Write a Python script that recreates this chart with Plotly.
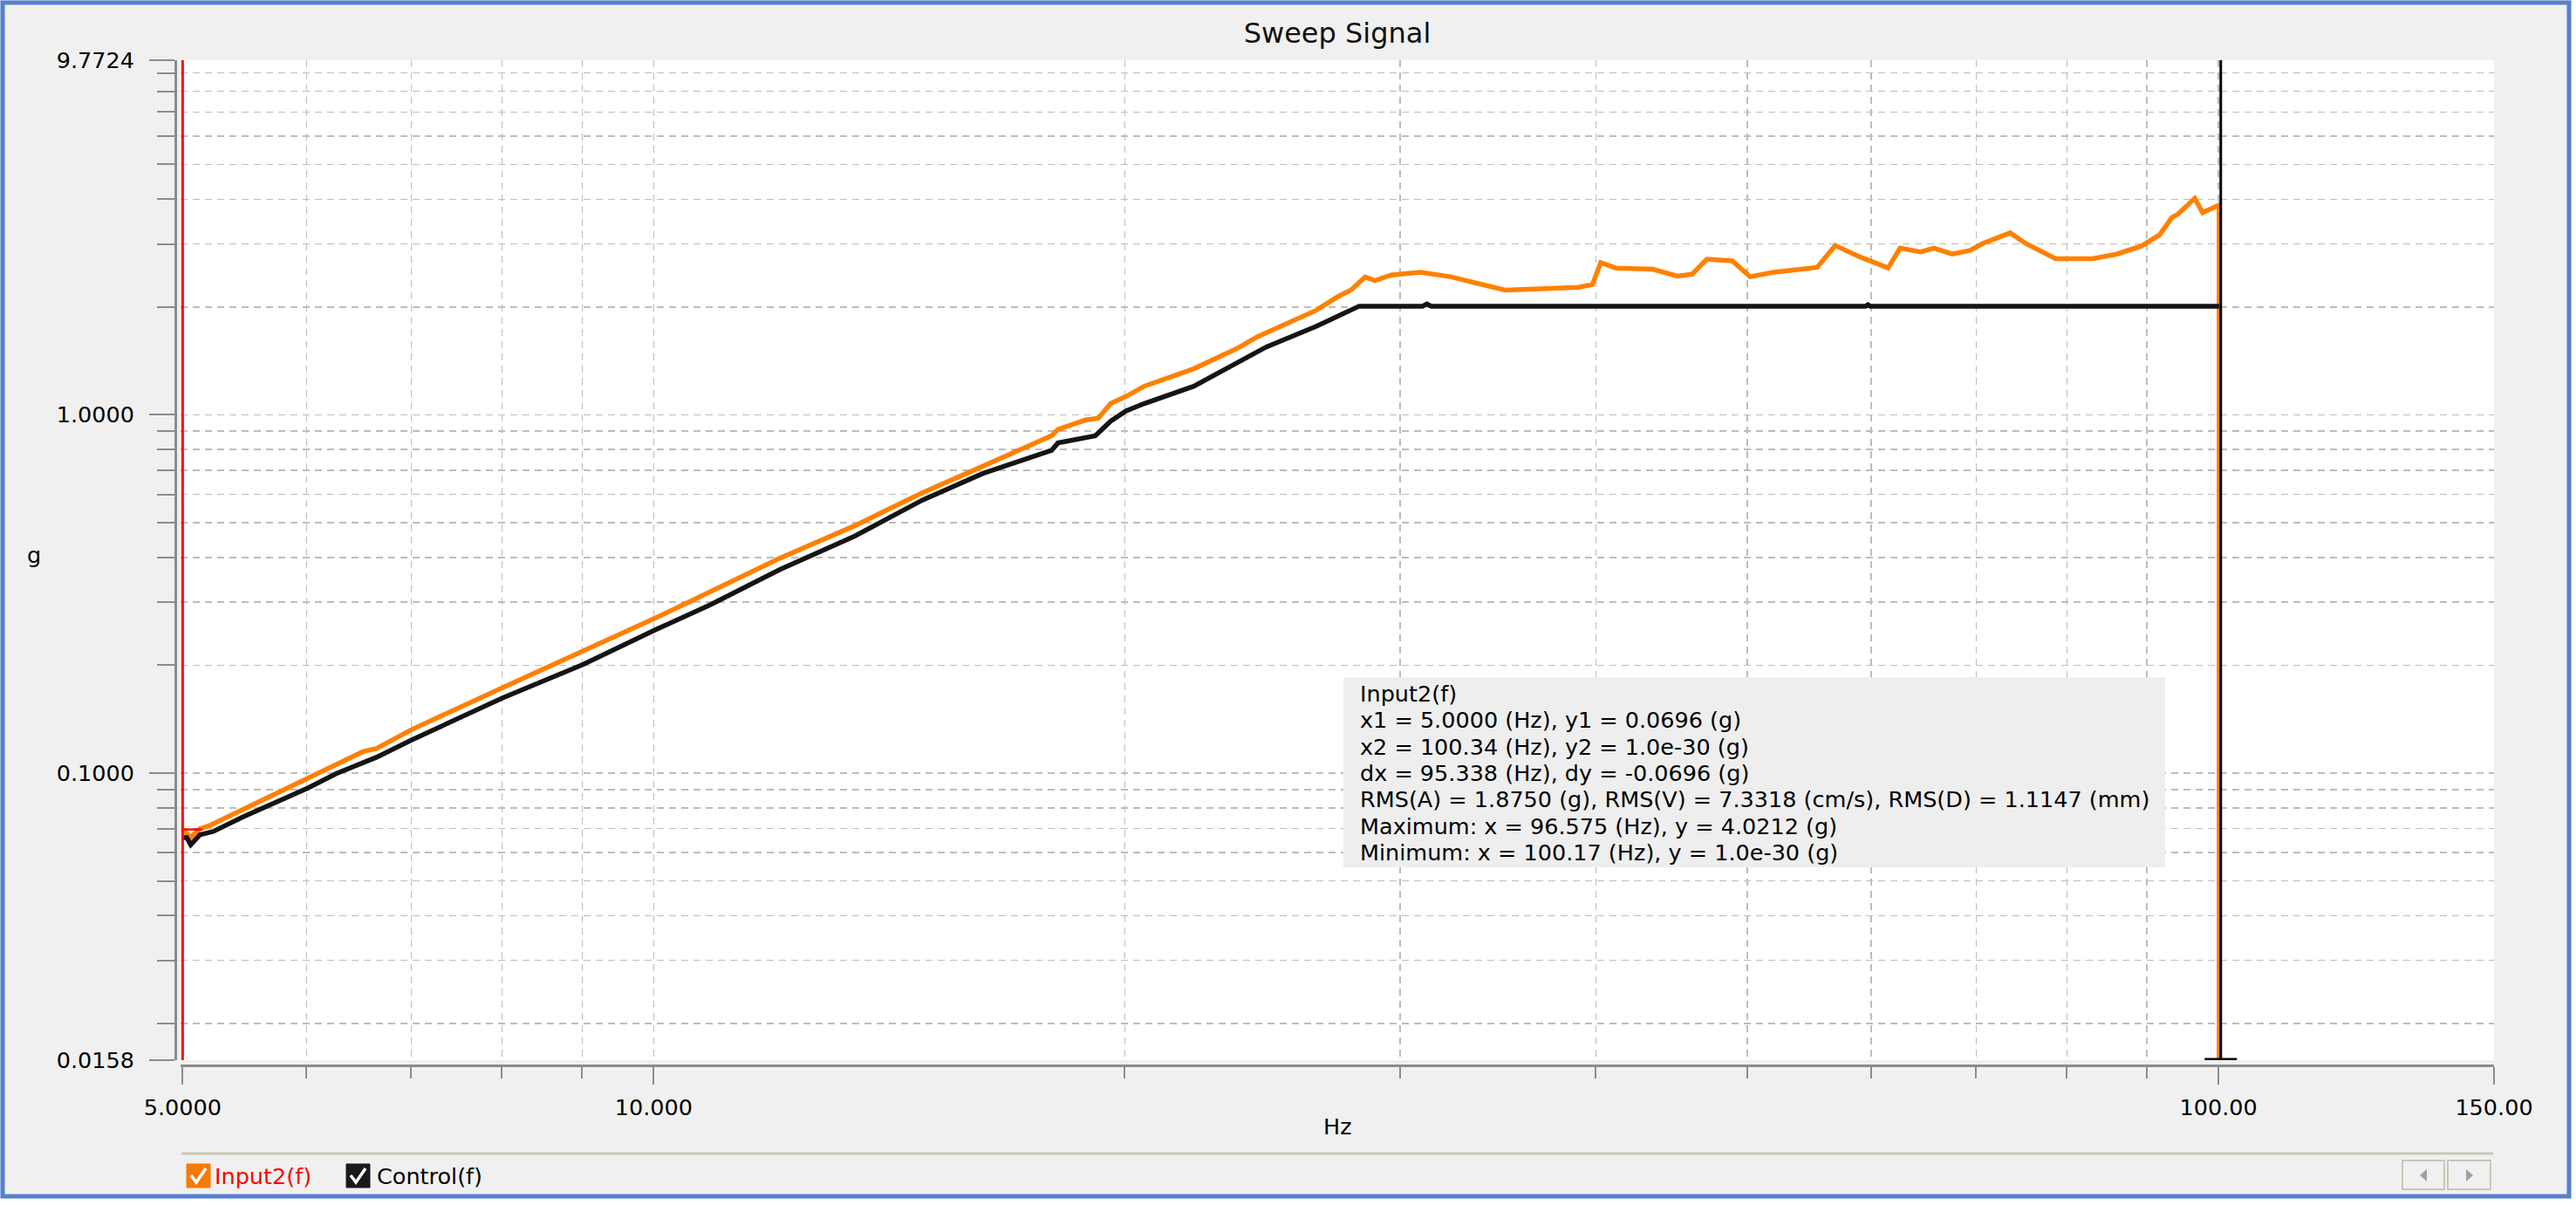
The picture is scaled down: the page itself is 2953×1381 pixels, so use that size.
import math
import plotly.graph_objects as go

# ---------------- data ----------------
input2_freq = [5.0, 5.03, 5.06, 5.13, 5.20, 5.46, 6.01, 6.52, 6.65, 7.00, 8.01, 9.02,
               10.04, 10.88, 12.04, 13.44, 14.86, 16.23, 17.96, 18.13, 18.9, 19.23,
               19.59, 20.04, 20.58, 22.14, 23.6, 24.31, 26.49, 27.41, 27.9, 28.49, 28.9,
               29.6, 30.9, 32.3, 34.4, 35.0, 39.0, 39.8, 40.3, 41.2, 43.5, 45.1, 46.1,
               47.1, 48.9, 50.2, 52.0, 54.4, 55.4, 56.9, 59.0, 61.5, 62.6, 64.5, 65.8,
               67.6, 69.4, 70.7, 73.6, 75.3, 78.7, 83.1, 86.1, 89.3, 91.7, 93.4, 94.2,
               96.575, 97.7, 100.1, 100.17]
input2_g = [0.0696, 0.068, 0.0661, 0.0700, 0.0713, 0.0790, 0.0970, 0.1148, 0.1171,
            0.1321, 0.1733, 0.219, 0.2717, 0.3215, 0.398, 0.490, 0.607, 0.7185, 0.8745,
            0.911, 0.969, 0.978, 1.075, 1.126, 1.202, 1.345, 1.533, 1.652, 1.955, 2.147,
            2.229, 2.425, 2.37, 2.457, 2.50, 2.43, 2.27, 2.23, 2.27, 2.31, 2.66, 2.57,
            2.55, 2.44, 2.47, 2.72, 2.69, 2.43, 2.50, 2.57, 2.58, 2.97, 2.76, 2.57, 2.92,
            2.85, 2.92, 2.81, 2.88, 3.01, 3.22, 3.01, 2.73, 2.73, 2.81, 2.96, 3.18, 3.56,
            3.63, 4.0212, 3.67, 3.85, 1.0e-30]

control_freq = [5.0, 5.03, 5.06, 5.13, 5.23, 5.46, 6.01, 6.27, 6.65, 7.00, 8.01, 9.02,
                10.04, 10.88, 12.04, 13.44, 14.86, 16.23, 17.96, 18.13, 19.15, 19.59,
                20.04, 20.58, 22.14, 23.39, 24.63, 26.49, 28.24, 31.0, 31.2, 31.4,
                59.5, 59.7, 59.9, 100.1]
control_g = [0.066, 0.0661, 0.0631, 0.0673, 0.0687, 0.0753, 0.0908, 0.0997, 0.1107,
             0.1236, 0.1623, 0.2012, 0.2518, 0.2955, 0.370, 0.4587, 0.579, 0.686, 0.796,
             0.835, 0.874, 0.960, 1.025, 1.075, 1.202, 1.37, 1.547, 1.764, 2.011, 2.011,
             2.04, 2.011, 2.011, 2.03, 2.011, 2.011]

x_tick_vals = [5, 10, 100, 150]
x_tick_text = ["5.0000", "10.000", "100.00", "150.00"]
x_minor_vals = [6, 7, 8, 9, 20, 30, 40, 50, 60, 70, 80, 90]
y_tick_vals = [0.0158, 0.1, 1.0, 9.7724]
y_tick_text = ["0.0158", "0.1000", "1.0000", "9.7724"]
y_minor_vals = [0.02, 0.03, 0.04, 0.05, 0.06, 0.07, 0.08, 0.09,
                0.2, 0.3, 0.4, 0.5, 0.6, 0.7, 0.8, 0.9,
                2, 3, 4, 5, 6, 7, 8, 9]

cursor_x1, cursor_y1 = 5.0, 0.0696
cursor_x2, cursor_y2 = 100.34, 1.0e-30
delta_x = 95.338
rms_a, rms_v, rms_d = 1.8750, 7.3318, 1.1147
max_x, max_y = 96.575, 4.0212
min_x, min_y = 100.17, 1.0e-30

series_names = ["Input2(f)", "Control(f)"]

# ---------------- layout geometry ----------------
W, H = 2953, 1381
L, R, T, B = 201, 94, 69, 160
PW, PH = W - L - R, H - T - B

def px(x):
    return (x - L) / PW

def py(y):
    return (T + PH - y) / PH

FONT = "DejaVu Sans"
ORANGE = "#FF8000"
BLACK = "#141414"
AXC = "#8C8C8C"
GRIDC = "#BDBDBD"
FS = 25.5

y_lo, y_hi = y_tick_vals[0], y_tick_vals[-1]

fig = go.Figure()
fig.add_trace(go.Scatter(x=input2_freq, y=input2_g, mode="lines",
                         line=dict(color=ORANGE, width=5.5), name=series_names[0],
                         hoverinfo="skip"))
fig.add_trace(go.Scatter(x=control_freq, y=control_g, mode="lines",
                         line=dict(color=BLACK, width=5.5), name=series_names[1],
                         hoverinfo="skip"))
# cursors
fig.add_trace(go.Scatter(x=[cursor_x2, cursor_x2], y=[y_lo, y_hi], mode="lines",
                         line=dict(color="#000000", width=3), hoverinfo="skip"))
fig.add_trace(go.Scatter(x=[cursor_x2 / 1.024, cursor_x2 * 1.024], y=[y_lo, y_lo],
                         mode="lines", line=dict(color="#000000", width=5),
                         hoverinfo="skip"))
fig.add_trace(go.Scatter(x=[cursor_x1, cursor_x1], y=[y_lo, y_hi], mode="lines",
                         line=dict(color="#FF0000", width=3), hoverinfo="skip"))
fig.add_trace(go.Scatter(x=[cursor_x1, cursor_x1 * 1.03], y=[cursor_y1, cursor_y1],
                         mode="lines", line=dict(color="#FF0000", width=2.5),
                         hoverinfo="skip"))

grid_common = dict(showgrid=True, gridcolor=GRIDC, gridwidth=1.5, griddash="8px,6px")

fig.update_xaxes(
    type="log", range=[math.log10(4.985), math.log10(150)],
    domain=[px(207), 1], anchor="free", position=0, automargin=False,
    showline=True, linecolor=AXC, linewidth=3, mirror=False, zeroline=False,
    ticks="outside", ticklen=20, tickwidth=2, tickcolor=AXC,
    tickmode="array", tickvals=x_tick_vals, ticktext=x_tick_text,
    tickfont=dict(family=FONT, size=FS, color="#000000"), ticklabelstandoff=4,
    minor=dict(tickmode="array", tickvals=x_minor_vals, ticks="outside", ticklen=13,
               tickwidth=2, tickcolor=AXC, **grid_common),
    **grid_common,
)
fig.update_yaxes(
    type="log", range=[math.log10(y_lo), math.log10(y_hi)],
    domain=[(T + PH - 1215) / PH, 1], anchor="free", position=0, automargin=False,
    showline=True, linecolor=AXC, linewidth=3, zeroline=False,
    ticks="outside", ticklen=29, tickwidth=2, tickcolor=AXC,
    tickmode="array", tickvals=y_tick_vals, ticktext=y_tick_text,
    tickfont=dict(family=FONT, size=FS, color="#000000"), ticklabelstandoff=12,
    minor=dict(tickmode="array", tickvals=y_minor_vals, ticks="outside", ticklen=20,
               tickwidth=2, tickcolor=AXC, **grid_common),
    **grid_common,
)

shapes = []
# outer frame
shapes.append(dict(type="rect", xref="paper", yref="paper", layer="above",
                   x0=px(3), x1=px(2945), y0=py(3), y1=py(1371),
                   line=dict(color="#5580CF", width=5), fillcolor="rgba(0,0,0,0)"))
shapes.append(dict(type="rect", xref="paper", yref="paper", layer="above",
                   x0=px(2948), x1=px(W + 5), y0=py(-5), y1=py(H + 5),
                   line=dict(width=0), fillcolor="#FFFFFF"))
shapes.append(dict(type="rect", xref="paper", yref="paper", layer="above",
                   x0=px(-5), x1=px(W + 5), y0=py(1374), y1=py(H + 5),
                   line=dict(width=0), fillcolor="#FFFFFF"))
# info box
shapes.append(dict(type="rect", xref="paper", yref="paper", layer="above",
                   x0=px(1540), x1=px(2482), y0=py(776), y1=py(994),
                   line=dict(width=0), fillcolor="#EEEEEE"))
# legend separator
shapes.append(dict(type="line", xref="paper", yref="paper",
                   x0=px(208), x1=px(2858), y0=py(1322), y1=py(1322),
                   line=dict(color="#C6C9B6", width=3)))

def path(points, close=False):
    s = "M " + " L ".join(f"{px(a):.6f},{py(b):.6f}" for a, b in points)
    return s + (" Z" if close else "")

# legend checkboxes
for x0, col in [(214, "#F77A05"), (397, "#1A1A1A")]:
    shapes.append(dict(type="rect", xref="paper", yref="paper",
                       x0=px(x0), x1=px(x0 + 27), y0=py(1334), y1=py(1361),
                       line=dict(color=col, width=1), fillcolor=col))
    shapes.append(dict(type="path", xref="paper", yref="paper",
                       path=path([(x0 + 5, 1347), (x0 + 11, 1355), (x0 + 22, 1339)]),
                       line=dict(color="#FFFFFF", width=3.5)))
# nav buttons
for x0, x1, tri in [(2754, 2802, [(2782, 1340), (2774, 1347), (2782, 1354)]),
                    (2806, 2855, [(2827, 1340), (2835, 1347), (2827, 1354)])]:
    shapes.append(dict(type="rect", xref="paper", yref="paper",
                       x0=px(x0), x1=px(x1), y0=py(1330), y1=py(1363),
                       line=dict(color="#C6C9B6", width=2), fillcolor="#F0F0F0"))
    shapes.append(dict(type="path", xref="paper", yref="paper", path=path(tri, True),
                       line=dict(width=0), fillcolor="#A0A0A0"))

info_lines = [
    series_names[0],
    f"x1 = {cursor_x1:.4f} (Hz), y1 = {cursor_y1:.4f} (g)",
    f"x2 = {cursor_x2:.2f} (Hz), y2 = {cursor_y2:.1e} (g)",
    f"dx = {delta_x:.3f} (Hz), dy = {cursor_y2 - cursor_y1:.4f} (g)",
    f"RMS(A) = {rms_a:.4f} (g), RMS(V) = {rms_v:.4f} (cm/s), RMS(D) = {rms_d:.4f} (mm)",
    f"Maximum: x = {max_x:.3f} (Hz), y = {max_y:.4f} (g)",
    f"Minimum: x = {min_x:.2f} (Hz), y = {min_y:.1e} (g)",
]

annotations = []
for i, line in enumerate(info_lines):
    annotations.append(dict(text=line, xref="paper", yref="paper", x=px(1557),
                            y=py(795 + i * 30.3), xanchor="left", yanchor="middle",
                            align="left", showarrow=False,
                            font=dict(family=FONT, size=FS, color="#000000")))
annotations += [
    dict(text="Hz", xref="paper", yref="paper", x=px(1533), y=py(1291),
         xanchor="center", yanchor="middle", showarrow=False,
         font=dict(family=FONT, size=FS, color="#000000")),
    dict(text="g", xref="paper", yref="paper", x=px(39), y=py(636),
         xanchor="center", yanchor="middle", showarrow=False,
         font=dict(family=FONT, size=FS, color="#000000")),
    dict(text=series_names[0], xref="paper", yref="paper", x=px(244), y=py(1348),
         xanchor="left", yanchor="middle", showarrow=False,
         font=dict(family=FONT, size=FS, color="#FF0000")),
    dict(text=series_names[1], xref="paper", yref="paper", x=px(430), y=py(1348),
         xanchor="left", yanchor="middle", showarrow=False,
         font=dict(family=FONT, size=FS, color="#000000")),
]

fig.update_layout(
    width=W, height=H,
    margin=dict(l=L, r=R, t=T, b=B, pad=0),
    paper_bgcolor="#F0F0F0", plot_bgcolor="#FFFFFF",
    showlegend=False,
    title=dict(text="Sweep Signal", xref="container", yref="container",
               x=1533 / W, y=1 - 38 / H, xanchor="center", yanchor="middle",
               font=dict(family=FONT, size=32, color="#111111")),
    shapes=shapes, annotations=annotations,
)

fig.write_html("out.html",
               config={"displayModeBar": False, "staticPlot": True},
               post_script="document.body.style.margin='0px';"
                           "document.body.style.overflow='hidden';")
